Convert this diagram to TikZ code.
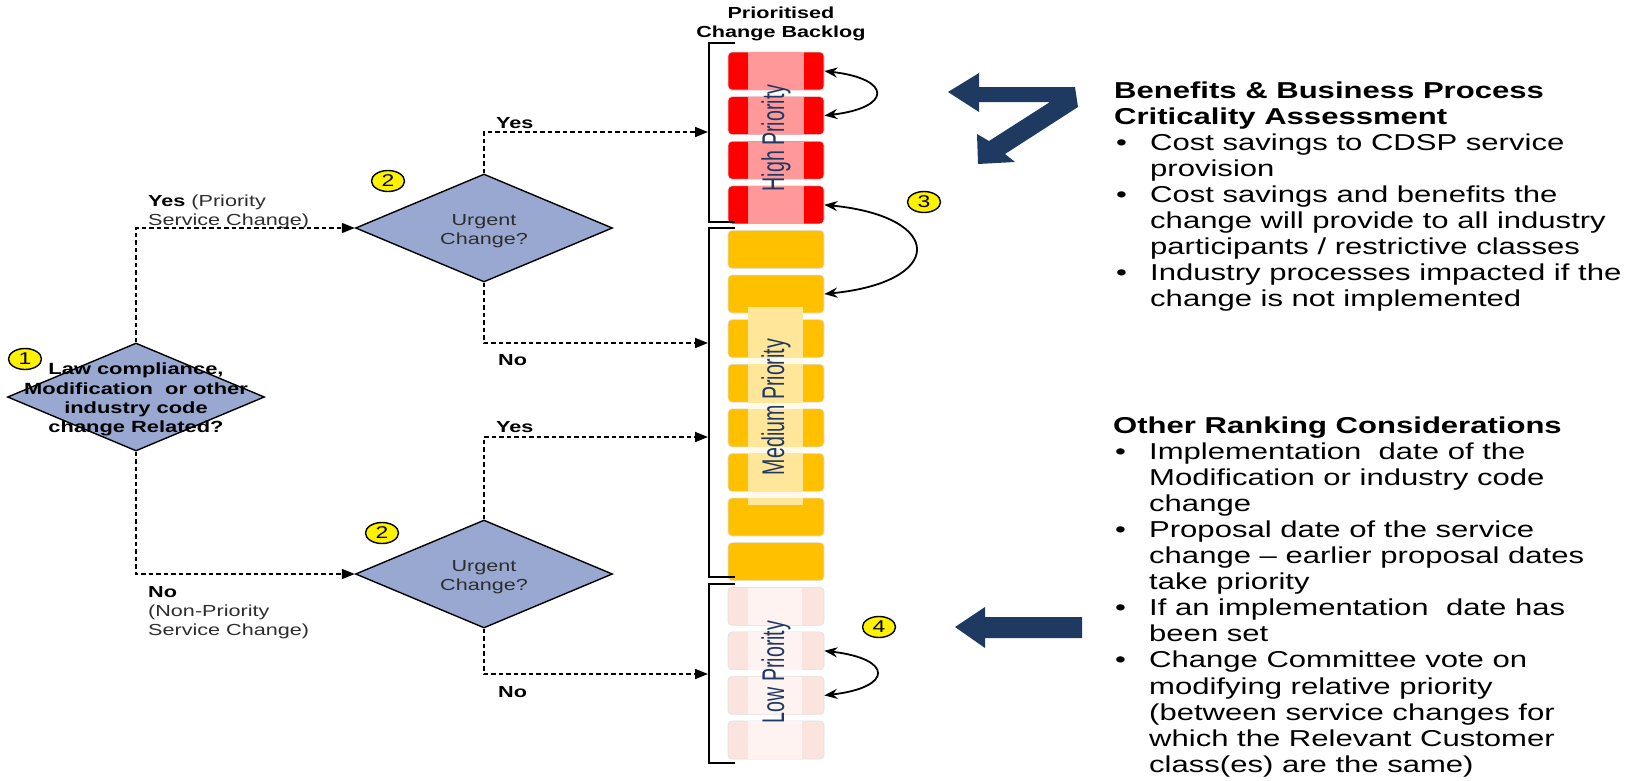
\documentclass[tikz,border=0pt]{standalone}
\usepackage{fontspec}
\setmainfont{Liberation Sans}[FakeStretch=1.35]
\newfontfamily\plainsf{Liberation Sans}
\usepackage{graphicx}
\usetikzlibrary{shapes.geometric,arrows.meta}
\definecolor{diafill}{RGB}{152,168,208}
\definecolor{navy}{RGB}{31,58,96}
\definecolor{hired}{RGB}{255,0,0}
\definecolor{hipink}{RGB}{255,153,153}
\definecolor{medor}{RGB}{255,192,0}
\definecolor{medstrip}{RGB}{255,230,153}
\definecolor{lowbox}{RGB}{252,228,222}
\definecolor{lowstrip}{RGB}{254,243,240}
\definecolor{striptext}{RGB}{31,56,100}
\definecolor{txtgray}{RGB}{45,45,45}
\newcommand{\bitem}{\hspace*{2pt}\makebox[34pt][l]{\textbullet}}
\newcommand{\bcont}{\hspace*{36pt}}
\begin{document}
\begin{tikzpicture}[x=1pt,y=-1pt,
  dia/.style={diamond, draw=black, line width=1.4pt, fill=diafill, minimum width=257pt, minimum height=108pt, inner sep=0pt},
  num/.style={ellipse, draw=black, line width=1.4pt, fill=yellow, minimum width=33pt, minimum height=21pt, inner sep=0pt, font=\fontsize{17}{17}\selectfont},
  flow/.style={draw=black, line width=1.8pt, dash pattern=on 4.5pt off 3pt, -{Triangle[length=13pt,width=10pt]}},
  dbl/.style={draw=black, line width=1.8pt, {Stealth[length=13pt,width=10pt]}-{Stealth[length=13pt,width=10pt]}},
  bracket/.style={draw=black, line width=1.7pt},
  bl/.style={rectangle, rounded corners=4pt, minimum width=96pt, minimum height=38pt, inner sep=0pt, draw=black!12, line width=0.6pt},
  hbox/.style={bl, fill=hired},
  mbox/.style={bl, fill=medor},
  lbox/.style={bl, fill=lowbox},
  lbl/.style={inner sep=0pt, anchor=base west, font=\fontsize{16}{19}\selectfont},
  rtxt/.style={inner sep=0pt, anchor=base west, font=\fontsize{23}{26.1}\selectfont},
  striplbl/.style={rotate=90, inner sep=0pt, text=striptext}
]
\useasboundingbox (0,0) rectangle (1634,780);
\fill[white] (0,0) rectangle (1634,780);

% title
\node[anchor=base, inner sep=0pt, font=\bfseries\fontsize{16}{19}\selectfont] (title) at (781,18)
  {\begin{tabular}[t]{@{}c@{}}Prioritised\\Change Backlog\end{tabular}};

% backlog boxes
\foreach \i in {0,...,3} {
  \node[hbox] (h\i) at (776,{71+44.6*\i}) {};
  \fill[hipink] (748,{52.3+44.6*\i}) rectangle (804,{89.7+44.6*\i});
}
\foreach \i in {0,...,7} {
  \node[mbox] (m\i) at (776,{71+44.6*(\i+4)}) {};
}
\fill[medstrip] (748,307) rectangle (803,505);
\foreach \k in {6,7,8,9} {
  \fill[white, opacity=0.8] (748,{52+44.6*\k+38.3}) rectangle (803,{52+44.6*(\k+1)-0.3});
}
\foreach \i in {0,...,3} {
  \node[lbox] (l\i) at (776,{71+44.6*(\i+12)}) {};
  \fill[lowstrip] (748,{52.3+44.6*(\i+12)}) rectangle (802,{89.7+44.6*(\i+12)});
}

\node[striplbl] (tHigh) at (776,138) {\scalebox{1}[1.6]{\plainsf\fontsize{19.6}{20}\selectfont High Priority}};
\node[striplbl] (tMed) at (776,407) {\scalebox{1}[1.6]{\plainsf\fontsize{19.6}{20}\selectfont Medium Priority}};
\node[striplbl] (tLow) at (776,672) {\scalebox{1}[1.6]{\plainsf\fontsize{19.6}{20}\selectfont Low Priority}};

% brackets
\draw[bracket] (735,43) -- (709,43) -- (709,222) -- (735,222);
\draw[bracket] (735,228) -- (709,228) -- (709,577) -- (735,577);
\draw[bracket] (735,584) -- (709,584) -- (709,763) -- (735,763);
\coordinate (hiIn) at (708,132);
\coordinate (medIn1) at (708,343);
\coordinate (medIn2) at (708,437);
\coordinate (lowIn) at (708,674);

% reorder arrows
\draw[dbl] (h0.east) .. controls +(68,8) and +(68,-8) .. (h1.east);
\draw[dbl] (h3.east) .. controls +(121,12) and +(121,-12) .. (m1.east);
\draw[dbl] (l1.east) .. controls +(69,8) and +(69,-8) .. (l2.east);

% diamonds
\node[dia] (d1) at (136,397) {};
\node[dia] (d2a) at (484,228) {};
\node[dia] (d2b) at (484,574) {};
\node[inner sep=0pt, font=\bfseries\fontsize{16.2}{19.3}\selectfont] (d1t) at (136,400)
  {\begin{tabular}{@{}c@{}}Law compliance,\\Modification\ \ or other\\industry code\\change Related?\end{tabular}};
\node[inner sep=0pt, text=txtgray, font=\fontsize{16}{19}\selectfont] (d2at) at (484,231)
  {\begin{tabular}{@{}c@{}}Urgent\\Change?\end{tabular}};
\node[inner sep=0pt, text=txtgray, font=\fontsize{16}{19}\selectfont] (d2bt) at (484,577)
  {\begin{tabular}{@{}c@{}}Urgent\\Change?\end{tabular}};

% flow connectors
\draw[flow] (d1.north) |- (d2a.west);
\draw[flow] (d1.south) |- (d2b.west);
\draw[flow] (d2a.north) |- (hiIn);
\draw[flow] (d2a.south) |- (medIn1);
\draw[flow] (d2b.north) |- (medIn2);
\draw[flow] (d2b.south) |- (lowIn);

% labels
\node[lbl] (lyes1) at (148,206) {\begin{tabular}[t]{@{}l@{}}\textbf{Yes} \textcolor{txtgray}{(Priority}\\\textcolor{txtgray}{Service Change)}\end{tabular}};
\node[lbl] (lno1) at (148,597) {\begin{tabular}[t]{@{}l@{}}\textbf{No}\\\textcolor{txtgray}{(Non-Priority}\\\textcolor{txtgray}{Service Change)}\end{tabular}};
\node[lbl, font=\bfseries\fontsize{16}{19}\selectfont] (lyes2) at (496,128) {Yes};
\node[lbl, font=\bfseries\fontsize{16}{19}\selectfont] (lno2) at (498,365) {No};
\node[lbl, font=\bfseries\fontsize{16}{19}\selectfont] (lyes3) at (496,432) {Yes};
\node[lbl, font=\bfseries\fontsize{16}{19}\selectfont] (lno3) at (498,697) {No};

% numbered markers
\node[num] (n1) at (25,359) {1};
\node[num] (n2a) at (388,181) {2};
\node[num] (n2b) at (382,533) {2};
\node[num] (n3) at (924,202) {3};
\node[num] (n4) at (879,627) {4};

% block arrows
\fill[navy] (948,92) -- (979,73) -- (979,87) -- (1075,87) -- (1078,107) -- (1005,154)
  -- (1015,162) -- (978,164) -- (977,134) -- (989,141) -- (1050,102) -- (979,102) -- (979,112) -- cycle;
\fill[navy] (955,627) -- (985,607) -- (985,617) -- (1082,617) -- (1082,638) -- (985,638) -- (985,648) -- cycle;

% right text
\node[rtxt] (ben) at (1114,98) {\begin{tabular}[t]{@{}l@{}}
\textbf{Benefits \& Business Process}\\
\textbf{Criticality Assessment}\\
\bitem Cost savings to CDSP service\\
\bcont provision\\
\bitem Cost savings and benefits the\\
\bcont change will provide to all industry\\
\bcont participants / restrictive classes\\
\bitem Industry processes impacted if the\\
\bcont change is not implemented
\end{tabular}};
\node[rtxt] (oth) at (1113,433) {\begin{tabular}[t]{@{}l@{}}
\textbf{Other Ranking Considerations}\\
\bitem Implementation\ \ date of the\\
\bcont Modification or industry code\\
\bcont change\\
\bitem Proposal date of the service\\
\bcont change -- earlier proposal dates\\
\bcont take priority\\
\bitem If an implementation\ \ date has\\
\bcont been set\\
\bitem Change Committee vote on\\
\bcont modifying relative priority\\
\bcont (between service changes for\\
\bcont which the Relevant Customer\\
\bcont class(es) are the same)
\end{tabular}};
\end{tikzpicture}
\end{document}
